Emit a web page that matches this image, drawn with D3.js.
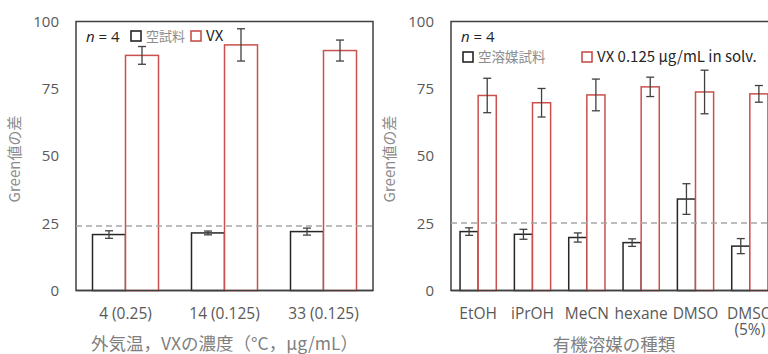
<!DOCTYPE html>
<html>
<head>
<meta charset="utf-8">
<script src="https://cdn.jsdelivr.net/npm/d3@7"></script>
<style>
  body { margin: 0; background: #fff; }
  svg { display: block; font-family: "Noto Sans CJK JP", "Noto Sans", sans-serif; }
</style>
</head>
<body>
<div id="chart"></div>
<script>
const width = 768;
const height = 354;

// left panel: outside temperature (VX conc.)
const tempCats = ["4 (0.25)", "14 (0.125)", "33 (0.125)"];
const tempBlank = [20.8, 21.4, 21.9];
const tempBlankErr = [1.4, 0.7, 1.3];
const tempVX = [87.4, 91.3, 89.2];
const tempVXErr = [3.3, 6.0, 3.9];
const tempThreshold = 24.0;

// right panel: organic solvent
const solvCats = ["EtOH", "iPrOH", "MeCN", "hexane", "DMSO", "DMSO|(5%)"];
const solvBlank = [21.9, 20.9, 19.7, 17.8, 34.0, 16.5];
const solvBlankErr = [1.4, 1.85, 1.7, 1.4, 5.7, 2.8];
const solvVX = [72.5, 69.8, 72.7, 75.7, 73.8, 73.1];
const solvVXErr = [6.4, 5.3, 5.9, 3.6, 8.1, 3.1];
const solvThreshold = 25.1;

const yTicks = [0, 25, 50, 75, 100];

const red = "#c9504c";
const dark = "#262626";
const gray = "#595959";
const latin = "'Open Sans', 'Noto Sans', sans-serif";

const svg = d3.select("#chart")
  .append("svg")
  .attr("width", width)
  .attr("height", height);

function panel(opts) {
  const g = svg.append("g");
  const x = d3.scaleBand().domain(opts.cats).range([opts.x0, opts.x1]);
  const sub = d3.scaleBand().domain(["blank", "vx"]).range([0, x.bandwidth()]).paddingOuter(0.5);
  const y = d3.scaleLinear().domain([0, 100]).range([290.5, 21.5]);

  // frame
  g.append("rect")
    .attr("x", opts.x0).attr("y", y(100))
    .attr("width", opts.x1 - opts.x0).attr("height", y(0) - y(100))
    .attr("fill", "none").attr("stroke", "#404040").attr("stroke-width", 1.5);

  // y axis labels
  const yAxis = g.append("g")
    .attr("transform", `translate(${opts.x0},0)`)
    .call(d3.axisLeft(y).tickValues(yTicks).tickSize(0).tickPadding(17));
  yAxis.select(".domain").remove();
  yAxis.selectAll("text")
    .attr("fill", gray).style("font-size", "15px").style("font-family", latin);

  // bars
  const series = [
    { key: "blank", vals: opts.blank, errs: opts.blankErr, color: dark },
    { key: "vx", vals: opts.vx, errs: opts.vxErr, color: red }
  ];
  series.forEach(s => {
    g.append("g").selectAll("rect")
      .data(opts.cats)
      .enter()
      .append("rect")
      .attr("x", d => x(d) + sub(s.key))
      .attr("y", (d, i) => y(s.vals[i]))
      .attr("width", sub.bandwidth())
      .attr("height", (d, i) => y(0) - y(s.vals[i]))
      .attr("fill", "#fff")
      .attr("stroke", s.color)
      .attr("stroke-width", 1.5);
  });

  // threshold
  g.append("line")
    .attr("x1", opts.x0).attr("x2", opts.x1)
    .attr("y1", y(opts.threshold)).attr("y2", y(opts.threshold))
    .attr("stroke", "#a6a6a6").attr("stroke-width", 1.5)
    .attr("stroke-dasharray", "6,4");

  // error bars
  series.forEach(s => {
    const eg = g.append("g").attr("stroke", "#404040").attr("stroke-width", 1.3);
    opts.cats.forEach((c, i) => {
      const cx = x(c) + sub(s.key) + sub.bandwidth() / 2;
      const lo = y(s.vals[i] - s.errs[i]);
      const hi = y(s.vals[i] + s.errs[i]);
      eg.append("line").attr("x1", cx).attr("x2", cx).attr("y1", lo).attr("y2", hi);
      eg.append("line").attr("x1", cx - 4).attr("x2", cx + 4).attr("y1", lo).attr("y2", lo);
      eg.append("line").attr("x1", cx - 4).attr("x2", cx + 4).attr("y1", hi).attr("y2", hi);
    });
  });

  // bottom axis (baseline)
  g.append("line")
    .attr("x1", opts.x0).attr("x2", opts.x1)
    .attr("y1", y(0)).attr("y2", y(0))
    .attr("stroke", "#404040").attr("stroke-width", 1.5);

  // category labels
  const lab = g.append("g").selectAll("text")
    .data(opts.cats)
    .enter()
    .append("text")
    .attr("x", d => x(d) + x.bandwidth() / 2)
    .attr("y", 319)
    .attr("text-anchor", "middle")
    .attr("fill", gray)
    .style("font-size", "15.5px")
    .style("font-family", latin);
  lab.selectAll("tspan")
    .data(d => d.split("|").map((t, k) => ({ t, k, d })))
    .enter()
    .append("tspan")
    .attr("x", p => x(p.d) + x.bandwidth() / 2)
    .attr("dy", p => p.k === 0 ? 0 : 16)
    .text(p => p.t);

  // axis titles
  g.append("text")
    .attr("transform", `translate(${opts.x0 - 56},${(y(0) + y(100)) / 2 + 3}) rotate(-90)`)
    .attr("text-anchor", "middle")
    .attr("fill", "#8c8c8c")
    .style("font-size", "15px")
    .text("Green値の差");

  g.append("text")
    .attr("x", (opts.x0 + opts.x1) / 2)
    .attr("y", opts.titleY)
    .attr("text-anchor", "middle")
    .attr("fill", "#7f7f7f")
    .style("font-size", "17.5px")
    .text(opts.title);

  return g;
}

const left = panel({
  cats: tempCats, blank: tempBlank, blankErr: tempBlankErr,
  vx: tempVX, vxErr: tempVXErr, threshold: tempThreshold,
  x0: 76, x1: 373, title: "外気温，VXの濃度（°C，μg/mL）", titleY: 350
});

const right = panel({
  cats: solvCats, blank: solvBlank, blankErr: solvBlankErr,
  vx: solvVX, vxErr: solvVXErr, threshold: solvThreshold,
  x0: 451, x1: 777, title: "有機溶媒の種類", titleY: 351
});

// legends
function nLabel(g, xp, yp) {
  const t = g.append("text").attr("x", xp).attr("y", yp)
    .attr("fill", dark).style("font-size", "15px")
    .style("font-family", latin);
  t.append("tspan").style("font-style", "italic").text("n");
  t.append("tspan").text(" = 4");
}
function legendItem(g, xp, yp, color, label, size, fill) {
  g.append("rect").attr("x", xp).attr("y", yp - 10).attr("width", 10).attr("height", 10)
    .attr("fill", "none").attr("stroke", color).attr("stroke-width", 1.6);
  g.append("text").attr("x", xp + 15).attr("y", yp)
    .attr("fill", fill).style("font-size", size).text(label);
}

nLabel(left, 86, 42);
legendItem(left, 131, 41, dark, "空試料", "13px", "#8c8c8c");
legendItem(left, 191, 41, red, "VX", "15px", dark);

nLabel(right, 461, 42);
legendItem(right, 463, 62, dark, "空溶媒試料", "13.5px", "#8c8c8c");
legendItem(right, 582, 62, red, "VX 0.125 μg/mL in solv.", "15px", dark);
</script>
</body>
</html>
